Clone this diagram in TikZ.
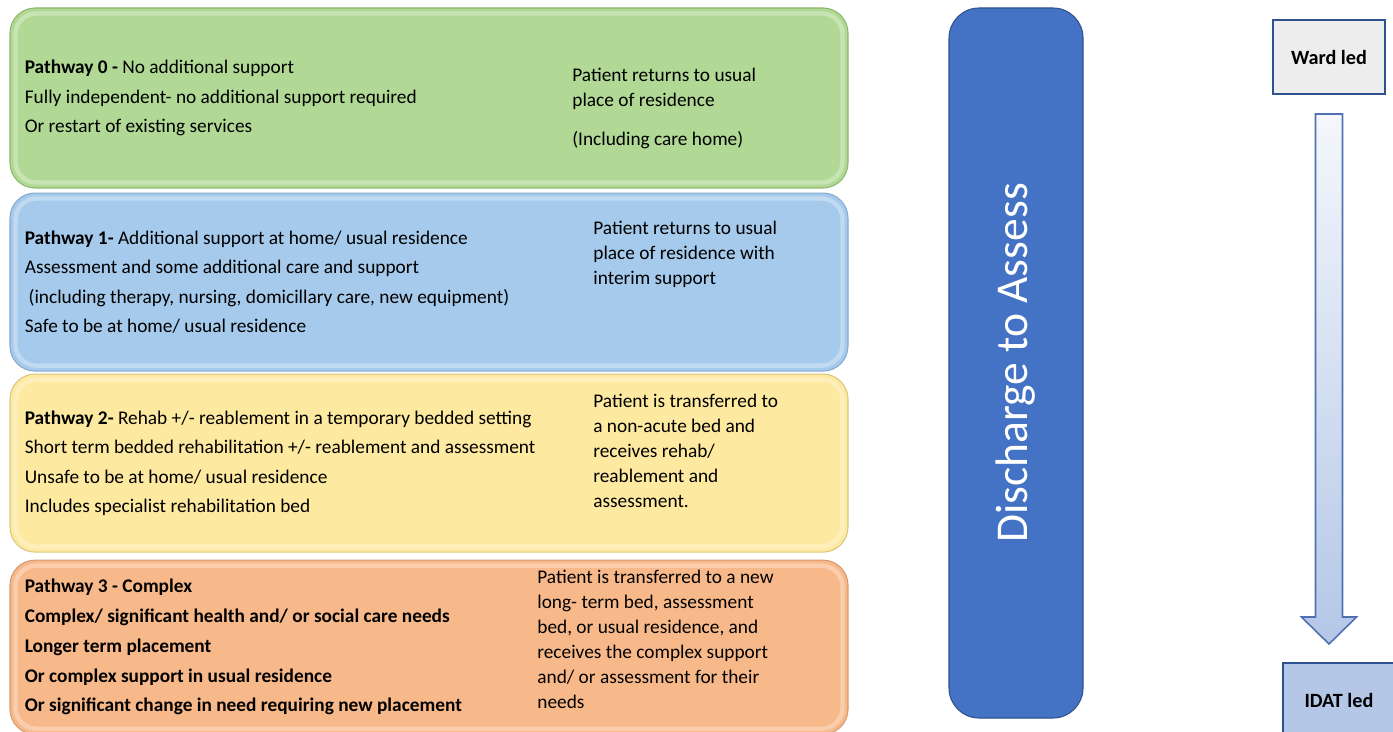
\documentclass[tikz,border=0pt]{standalone}
\usepackage{fontspec}
\setmainfont{Carlito}
\usepackage{xcolor}
\usetikzlibrary{positioning, calc}

\definecolor{pwgreen}{HTML}{B1D995}
\definecolor{pwgreenline}{HTML}{8DB870}
\definecolor{pwblue}{HTML}{A6CAEC}
\definecolor{pwblueline}{HTML}{86A9CF}
\definecolor{pwyellow}{HTML}{FDE99F}
\definecolor{pwyellowline}{HTML}{D9C77F}
\definecolor{pworange}{HTML}{F8B98A}
\definecolor{pworangeline}{HTML}{D39A70}
\definecolor{datblue}{HTML}{4472C4}
\definecolor{datline}{HTML}{2F528F}
\definecolor{wardgrey}{HTML}{EDEDED}
\definecolor{idatblue}{HTML}{B4C7E7}
\definecolor{arrowtop}{HTML}{F4F7FC}
\definecolor{arrowline}{HTML}{4F71B2}

\begin{document}
\begin{tikzpicture}[
    pathway/.style={draw, rounded corners=0.5cm, minimum width=16.76cm,
                    line width=0.6pt, inner sep=0pt},
    bevel/.style={draw=white, draw opacity=0.3, line width=2.5pt, rounded corners=0.42cm},
    lefttext/.style={anchor=west, align=left, inner sep=0pt,
                     font=\fontsize{11}{16.8}\selectfont},
    righttext/.style={anchor=west, align=left, inner sep=0pt,
                      font=\fontsize{11}{14.2}\selectfont},
    leadbox/.style={draw=datline, line width=1.1pt, minimum width=2.24cm,
                    minimum height=1.48cm, font=\fontsize{11.5}{13}\selectfont\bfseries},
    blockarrow/.style={draw=arrowline, line width=0.9pt, top color=arrowtop,
                       bottom color=idatblue, line join=miter}
]
\useasboundingbox (0,0) rectangle (27.86,-14.64);

% the four pathway bands
\node[pathway, fill=pwgreen, draw=pwgreenline, minimum height=3.6cm] (p0) at (8.58,-1.96) {};
\node[pathway, fill=pwblue, draw=pwblueline, minimum height=3.56cm, below=0.08cm of p0] (p1) {};
\node[pathway, fill=pwyellow, draw=pwyellowline, minimum height=3.56cm, below=0.04cm of p1] (p2) {};
\node[pathway, fill=pworange, draw=pworangeline, minimum height=3.48cm, below=0.14cm of p2] (p3) {};

\foreach \p in {p0,p1,p2,p3}
  \draw[bevel] ([shift={(0.12cm,-0.12cm)}]\p.north west) rectangle ([shift={(-0.12cm,0.12cm)}]\p.south east);

\node[lefttext, right=0.3cm of p0.west] (p0l) {\textbf{Pathway 0 -} No additional support\\
  Fully independent- no additional support required\\
  Or restart of existing services};
\node[lefttext, right=0.3cm of p1.west] (p1l) {\textbf{Pathway 1-} Additional support at home/ usual residence\\
  Assessment and some additional care and support\\
  \hspace{0.2em}(including therapy, nursing, domicillary care, new equipment)\\
  Safe to be at home/ usual residence};
\node[lefttext, right=0.3cm of p2.west] (p2l) {\textbf{Pathway 2-} Rehab +/- reablement in a temporary bedded setting\\
  Short term bedded rehabilitation +/- reablement and assessment\\
  Unsafe to be at home/ usual residence\\
  Includes specialist rehabilitation bed};
\node[lefttext, right=0.3cm of p3.west, font=\fontsize{11}{16.9}\selectfont\bfseries] (p3l) {Pathway 3 - Complex\\
  Complex/ significant health and/ or social care needs\\
  Longer term placement\\
  Or complex support in usual residence\\
  Or significant change in need requiring new placement};

\node[righttext] (p0r) at (11.44,-2.16) {Patient returns to usual\\ place of residence\\[0.28cm] (Including care home)};
\node[righttext] (p1r) at (11.86,-5.08) {Patient returns to usual\\ place of residence with\\ interim support};
\node[righttext] (p2r) at (11.86,-9.02) {Patient is transferred to\\ a non-acute bed and\\ receives rehab/\\ reablement and\\ assessment.};
\node[righttext] (p3r) at (10.74,-12.79) {Patient is transferred to a new\\ long- term bed, assessment\\ bed, or usual residence, and\\ receives the complex support\\ and/ or assessment for their\\ needs};

% discharge to assess column
\node[draw=datline, fill=datblue, rounded corners=0.6cm, line width=0.6pt, rotate=90,
      minimum width=14.2cm, minimum height=2.68cm, text=white,
      font=\fontsize{25.9}{30}\selectfont] (d2a) at (20.32,-7.26) {Discharge to Assess};

% who leads
\node[leadbox, fill=wardgrey] (ward) at (26.58,-1.14) {Ward led};
\node[leadbox, fill=idatblue] (idat) at (26.78,-14.0) {IDAT led};

\coordinate (atop) at ($(ward.south)+(0,-0.38)$);
\coordinate (atip) at ($(ward.south |- idat.north)+(0,0.36)$);
\draw[blockarrow] ($(atop)+(-0.27,0)$) -- ($(atop)+(0.27,0)$) -- ($(atip)+(0.27,0.54)$)
  -- ($(atip)+(0.55,0.54)$) -- (atip) -- ($(atip)+(-0.55,0.54)$) -- ($(atip)+(-0.27,0.54)$) -- cycle;
\end{tikzpicture}
\end{document}
